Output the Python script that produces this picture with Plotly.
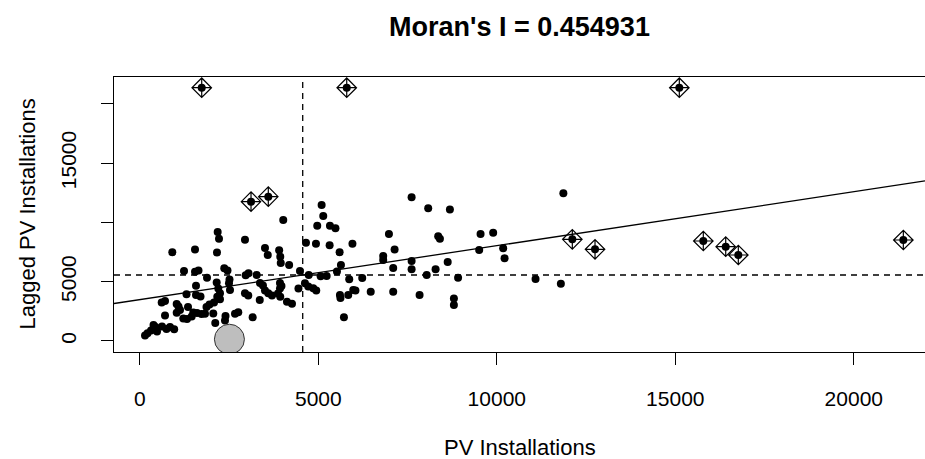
import plotly.graph_objects as go

# ---- data ----
pv = [5093, 5138, 4018, 4970, 5326, 5480, 2181, 2218, 2946, 4654, 4934, 5317, 5956, 6978, 7137,
      910, 1546, 2162, 3506, 3584, 3903, 3934, 3948, 4183, 5597, 5634, 6818, 6818, 7098, 7613,
      8078, 8686, 8358, 8406, 7613, 7613, 8624, 8285, 8036, 9545, 9898, 9506, 10178, 10217, 11864,
      1238, 1546, 1644, 1882, 2366, 2456, 2512, 2965, 3044, 3273, 4486, 4732, 5065, 5233, 5522,
      5866, 6230, 2153, 2198, 2246, 2498, 2526, 1574, 3366, 3450, 3506, 3598, 3702, 3870, 3926,
      3968, 3926, 3934, 4444, 4626, 4718, 4858, 4942, 5606, 5620, 5838, 5978, 6040, 6468, 7098,
      7837, 8915, 8798, 8798, 11085, 11794,
      1308, 1574, 1700, 2170, 2946, 3038, 3360, 4122, 4262, 613, 706, 1033, 1084, 1350, 706,
      1033, 1126, 1218, 1322, 1453, 1498, 1602, 1728, 1826, 1868, 1952, 2078, 2058, 2114, 2400,
      2386, 2666, 2758, 3161, 5718, 146, 216, 314, 384, 440, 482, 622, 748, 846, 963, 2246]
lag = [11468, 10540, 10203, 9722, 9722, 9503, 9191, 8626, 8542, 8289, 8196, 8069, 8204, 9022, 7715,
       7479, 7715, 7462, 7842, 7252, 7648, 7108, 6577, 6408, 7479, 6408, 7167, 6830, 6155, 12117,
       11189, 11088, 8828, 8626, 6746, 6046, 6661, 6046, 5565, 9022, 9132, 7673, 7816, 6973, 12454,
       5902, 5843, 5945, 5337, 6138, 5945, 5186, 5540, 5709, 5565, 5902, 5565, 5464, 5481, 5860,
       5203, 5312, 4933, 4427, 4022, 4865, 4300, 4655, 4891, 4680, 4258, 4022, 3837, 4005, 4427,
       4638, 4891, 3735, 4427, 4865, 4595, 4444, 4258, 3879, 3626, 3879, 4300, 4258, 4157, 4157,
       3879, 5337, 3584, 3036, 5228, 4832,
       3938, 3879, 3752, 3735, 4022, 3837, 3457, 3314, 3137, 3246, 3373, 3120, 2909, 2867, 2150,
       2378, 2614, 1897, 1855, 2066, 2403, 2361, 2277, 2302, 2867, 3078, 3246, 2319, 1518, 2108,
       1729, 2302, 2428, 1998, 1998, 464, 649, 885, 1349, 1180, 801, 1223, 1012, 1180, 987, 3516]

inf_pv = [1734, 5796, 15112, 3115, 3599, 12115, 12751, 15784, 16412, 16765, 21387]
inf_lag = [21357, 21357, 21357, 11745, 12167, 8575, 7732, 8432, 7951, 7251, 8516]

grey_pv = [2510]
grey_lag = [150]

pv_mean = 4563
lag_mean = 5565
morans_i = 0.454931

x_range = [-723, 21994]
y_range = [-928, 22260]
x_ticks = [0, 5000, 10000, 15000, 20000]
y_ticks = [0, 5000, 10000, 15000, 20000]
y_ticktext = ["0", "5000", "", "15000", ""]

FONT = "Liberation Sans, Arial, sans-serif"

fig = go.Figure()

# regression line (slope = Moran's I, through the means)
line_x = x_range
line_y = [lag_mean + morans_i * (v - pv_mean) for v in line_x]
fig.add_trace(go.Scatter(x=line_x, y=line_y, mode="lines",
                         line=dict(color="black", width=1.3), showlegend=False))

# mean lines
fig.add_shape(type="line", xref="x", yref="paper", x0=pv_mean, x1=pv_mean, y0=0, y1=1,
              line=dict(color="black", width=1.3, dash="6px,5px"))
fig.add_shape(type="line", xref="paper", yref="y", x0=0, x1=1, y0=lag_mean, y1=lag_mean,
              line=dict(color="black", width=1.3, dash="6px,5px"))

all_pv = pv + inf_pv
all_lag = lag + inf_lag
fig.add_trace(go.Scatter(x=all_pv, y=all_lag, mode="markers",
                         marker=dict(color="black", size=8, line=dict(width=0)),
                         showlegend=False))
fig.add_trace(go.Scatter(x=inf_pv, y=inf_lag, mode="markers",
                         marker=dict(symbol="diamond-cross-open", color="black", size=15,
                                     line=dict(color="black", width=1.2)),
                         showlegend=False))
fig.add_trace(go.Scatter(x=grey_pv, y=grey_lag, mode="markers",
                         marker=dict(color="#bebebe", size=30, line=dict(color="#333333", width=1)),
                         showlegend=False, cliponaxis=True))

fig.update_layout(
    width=925, height=459,
    margin=dict(l=114, r=0, t=77, b=107),
    paper_bgcolor="white", plot_bgcolor="white",
    font=dict(family=FONT, size=21, color="black"),
    title=dict(text="<b>Moran's I = 0.454931</b>", x=0.5, xref="paper", xanchor="center",
               y=1 - 27 / 459, yref="container", yanchor="middle",
               font=dict(family=FONT, size=27, color="black")),
    xaxis=dict(range=x_range, tickvals=x_ticks, ticktext=[str(v) for v in x_ticks],
               showgrid=False, zeroline=False, showline=True, linecolor="black", linewidth=1.3,
               mirror=True, ticks="outside", ticklen=12, tickwidth=1.3, tickcolor="black",
               ticklabelstandoff=16, tickfont=dict(size=21)),
    yaxis=dict(range=y_range, tickvals=y_ticks, ticktext=y_ticktext, tickangle=-90,
               showgrid=False, zeroline=False, showline=True, linecolor="black", linewidth=1.3,
               mirror=True, ticks="outside", ticklen=12, tickwidth=1.3, tickcolor="black",
               ticklabelstandoff=16, tickfont=dict(size=21)),
    annotations=[
        dict(text="PV Installations", xref="paper", yref="paper", x=0.5, y=(352 - 447) / 275,
             xanchor="center", yanchor="middle", showarrow=False, font=dict(size=22)),
        dict(text="Lagged PV Installations", xref="paper", yref="paper", x=(27 - 114) / 811,
             y=0.5, xanchor="center", yanchor="middle", textangle=-90, showarrow=False,
             font=dict(size=22)),
    ],
)

fig.write_html("out.html")
